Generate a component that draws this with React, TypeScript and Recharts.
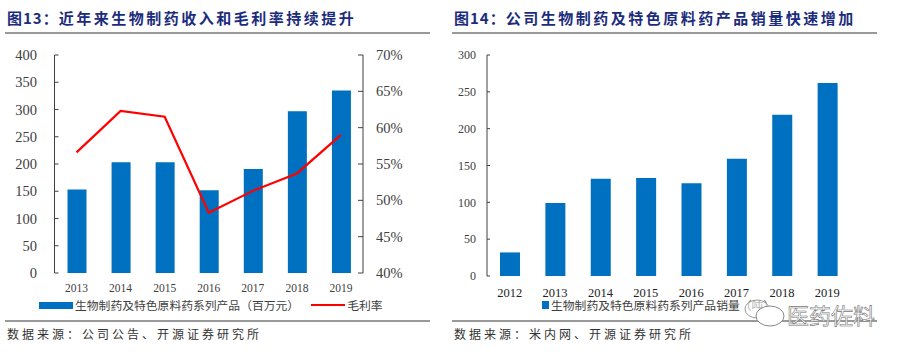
import React from 'react';
import { ComposedChart, BarChart, Bar, Line, XAxis, YAxis, Legend } from 'recharts';

const years13 = ['2013', '2014', '2015', '2016', '2017', '2018', '2019'];
const revenue = [153, 203, 203, 152, 191, 297, 335];
const margin = [56.6, 62.3, 61.5, 48.3, 51.3, 53.7, 59];
const leftTicks = [0, 50, 100, 150, 200, 250, 300, 350, 400];
const rightTicks = [40, 45, 50, 55, 60, 65, 70];

const years14 = ['2012', '2013', '2014', '2015', '2016', '2017', '2018', '2019'];
const volume = [32, 99, 132, 133, 126, 159, 219, 262];
const volumeTicks = [0, 50, 100, 150, 200, 250, 300];

const revenueName = '生物制药及特色原料药系列产品（百万元）';
const volumeName = '生物制药及特色原料药系列产品销量（吨）';

const dataLeft = years13.map((year, i) => ({ year, revenue: revenue[i], margin: margin[i] }));
const dataRight = years14.map((year, i) => ({ year, volume: volume[i] }));

const BLUE = '#0070c0';
const AXIS = '#404040';
const SERIF = '"Liberation Serif", serif';
const SANS = '"Noto Sans CJK SC", sans-serif';
const TITLE = '#1c2c7c';

const boundaries = (n: number) => Array.from({ length: n + 1 }, (_, i) => i);

const legendText: React.CSSProperties = { display: 'flex', alignItems: 'center', height: 12, lineHeight: '12px', fontFamily: SANS, fontSize: 11.8, color: '#404040', whiteSpace: 'nowrap' };

const LeftLegend = ({ payload }: any) => (
  <div style={legendText}>
    {(payload || []).map((p: any) => (
      <span key={p.value} style={{ display: 'inline-flex', alignItems: 'center', marginRight: 12 }}>
        <span style={{ width: 34, height: p.type === 'line' ? 2 : 7, background: p.color, marginRight: 2 }} />
        {p.value}
      </span>
    ))}
  </div>
);

const RightLegend = ({ payload }: any) => (
  <div style={legendText}>
    {(payload || []).map((p: any) => (
      <span key={p.value} style={{ display: 'inline-flex', alignItems: 'center' }}>
        <span style={{ width: 7, height: 8, background: p.color, marginRight: 2 }} />
        {p.value}
      </span>
    ))}
  </div>
);

const Frame = ({ left, prefix, title, source }: any) => (
  <>
    <div style={{ position: 'absolute', left: left + 2, top: 7.5, fontFamily: SANS, fontWeight: 700, fontSize: 15, letterSpacing: 2.5, color: TITLE, whiteSpace: 'nowrap', lineHeight: '20px' }}>
      <span style={{ letterSpacing: 1 }}>{prefix}</span>{title}
    </div>
    <div style={{ position: 'absolute', left, top: 32, width: 425, height: 2, background: '#999' }} />
    <div style={{ position: 'absolute', left, top: 319.5, width: 425, height: 2, background: '#999' }} />
    <div style={{ position: 'absolute', left: left + 2, top: 324, fontFamily: SANS, fontSize: 12, letterSpacing: 3, color: '#333', whiteSpace: 'nowrap', lineHeight: '20px' }}>{source}</div>
  </>
);

const Watermark = () => (
  <>
    <svg width={50} height={40} style={{ position: 'absolute', left: 740, top: 295 }}>
      <ellipse cx={17} cy={14} rx={12} ry={9} fill="#ffffff" fillOpacity={0.6} stroke="#999" />
      <ellipse cx={30} cy={21} rx={14} ry={10} fill="#fff" stroke="#888" />
    </svg>
    <div style={{ position: 'absolute', left: 787, top: 298, fontFamily: SANS, fontSize: 22, color: '#fff', WebkitTextStroke: '0.6px #777', whiteSpace: 'nowrap', lineHeight: '32px' }}>医药佐料</div>
  </>
);

// bars first in the legend, whatever their names sort to
const barsFirst = (item: any) => (item.type === 'line' ? 1 : 0);

export default function App() {
  return (
    <div style={{ position: 'absolute', left: 0, top: 0, width: 901, height: 353, background: '#fff', overflow: 'hidden' }}>
      <Frame left={5} prefix="图13：" title="近年来生物制药收入和毛利率持续提升" source="数据来源：公司公告、开源证券研究所" />
      <Frame left={452} prefix="图14：" title="公司生物制药及特色原料药产品销量快速增加" source="数据来源：米内网、开源证券研究所" />

      <div style={{ position: 'absolute', left: 0, top: 0 }}>
        <ComposedChart width={450} height={353} data={dataLeft} margin={{ top: 55, right: 0, bottom: 0, left: 0 }}>
          <XAxis dataKey="year" axisLine={false} tickLine={false} interval={0} height={80} tickMargin={5}
            tick={{ fontFamily: SERIF, fontSize: 11.5, fill: AXIS }} />
          <XAxis xAxisId="edges" type="number" domain={[0, 7]} ticks={boundaries(7)} tick={false} height={0}
            tickSize={-3} stroke={AXIS} />
          <YAxis yAxisId="l" width={54.5} domain={[0, 400]} ticks={leftTicks} interval={0} tickSize={-4} tickMargin={21.5}
            stroke={AXIS} tick={{ fontFamily: SERIF, fontSize: 14.5, fill: AXIS }} />
          <YAxis yAxisId="r" orientation="right" width={87} domain={[40, 70]} ticks={rightTicks} interval={0} tickSize={-5} tickMargin={18}
            tickFormatter={(v: number) => `${v}%`} stroke={AXIS} tick={{ fontFamily: SERIF, fontSize: 14.5, fill: AXIS }} />
          <Bar yAxisId="l" dataKey="revenue" name={revenueName} fill={BLUE} barSize={19} isAnimationActive={false} />
          <Line yAxisId="r" dataKey="margin" name="毛利率" type="linear" stroke="#ff0000" strokeWidth={2.2} dot={false} legendType="line" isAnimationActive={false} />
          <Legend content={<LeftLegend />} align="center" verticalAlign="middle" itemSorter={barsFirst} wrapperStyle={{ left: 39, top: 299, width: 400 }} />
        </ComposedChart>
      </div>

      <div style={{ position: 'absolute', left: 0, top: 0 }}>
        <BarChart width={901} height={353} data={dataRight} margin={{ top: 55, right: 51, bottom: 0, left: 0 }}>
          <XAxis dataKey="year" axisLine={false} tickLine={false} interval={0} height={77} tickMargin={6}
            tick={{ fontFamily: SERIF, fontSize: 12.5, fill: '#222' }} />
          <XAxis xAxisId="edges" type="number" domain={[0, 8]} ticks={boundaries(8)} tick={false} height={0}
            tickSize={-3} stroke={AXIS} />
          <YAxis width={487} domain={[0, 300]} ticks={volumeTicks} interval={0} tickSize={-3} tickMargin={14}
            stroke={AXIS} tick={{ fontFamily: SERIF, fontSize: 12, fill: AXIS }} />
          <Bar dataKey="volume" name={volumeName} fill={BLUE} barSize={20} isAnimationActive={false} />
          <Legend content={<RightLegend />} align="center" verticalAlign="middle" wrapperStyle={{ left: 542, top: 299, width: 300 }} />
        </BarChart>
      </div>

      <Watermark />
    </div>
  );
}
